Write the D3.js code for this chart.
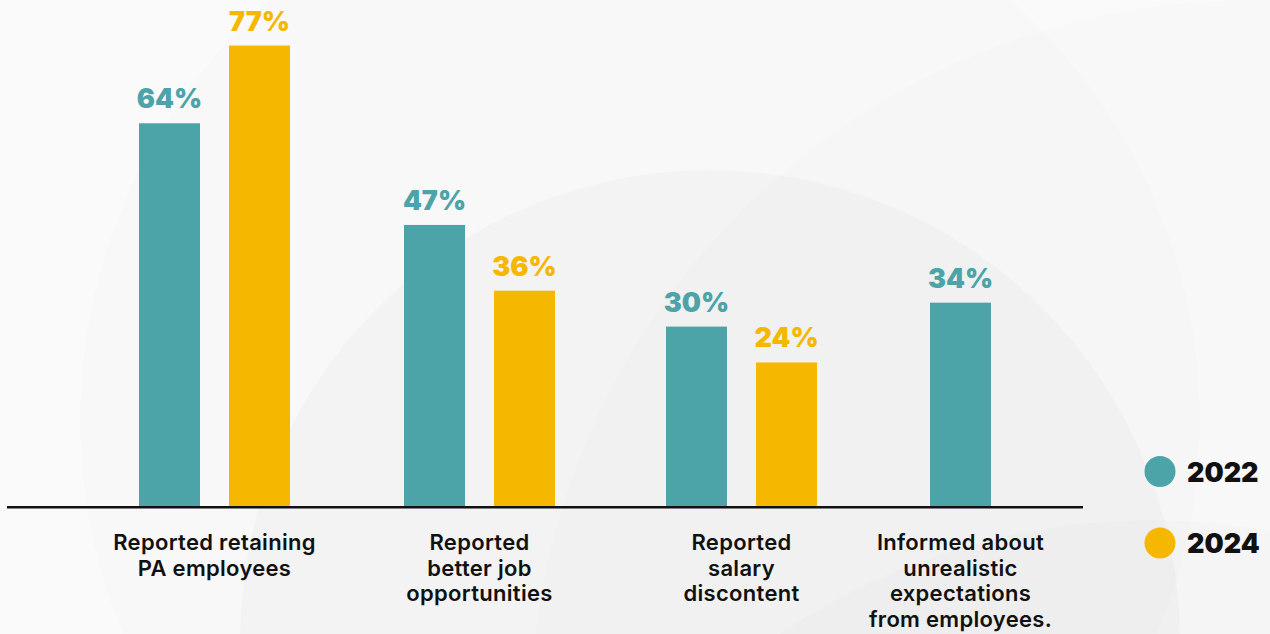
<!DOCTYPE html>
<html>
<head>
<meta charset="utf-8">
<script src="https://cdn.jsdelivr.net/npm/d3@7"></script>
<style>
  html, body { margin: 0; padding: 0; background: #f8f8f8; }
  svg { display: block; }
</style>
</head>
<body>
<svg id="chart" width="1270" height="634"></svg>
<script>
// Survey results by category, 2022 vs 2024 (percent)
const categories = [
  ["Reported retaining", "PA employees"],
  ["Reported", "better job", "opportunities"],
  ["Reported", "salary", "discontent"],
  ["Informed about", "unrealistic", "expectations", "from employees."]
];
const years = ["2022", "2024"];
const values2022 = [64, 47, 30, 34];
const values2024 = [77, 36, 24, null];
const yearColors = ["#4ca3a8", "#f5b700"];

const W = 1270, H = 634;
const svg = d3.select("#chart");

// soft background discs
const bg = svg.append("g");
bg.append("rect").attr("width", W).attr("height", H).attr("fill", "#fafafa");
[
  { cx: 640, cy: 420, r: 560, o: 0.008 },
  { cx: 1250, cy: 720, r: 720, o: 0.008 },
  { cx: 710, cy: 640, r: 470, o: 0.02 },
  { cx: 1150, cy: 1180, r: 660, o: 0.012 }
].forEach(c => bg.append("circle")
  .attr("cx", c.cx).attr("cy", c.cy).attr("r", c.r)
  .attr("fill", "#000").attr("fill-opacity", c.o));

const catKeys = categories.map(c => c.join(" "));
const baseY = 506;

const y = d3.scaleLinear().domain([0, 100]).range([baseY, baseY - 598]);
const x = d3.scaleOrdinal().domain(catKeys).range([214.5, 479.5, 741.5, 960.5]);
const inner = d3.scaleBand().domain(years).range([-75.5, 75.5]).paddingInner(29 / 90);
const barW = inner.bandwidth();

const rows = [];
catKeys.forEach((k, i) => {
  const vals = [values2022[i], values2024[i]];
  const present = years.filter((yr, j) => vals[j] != null);
  years.forEach((yr, j) => {
    if (vals[j] == null) return;
    const off = present.length === 1 ? -barW / 2 : inner(yr);
    rows.push({ key: k, year: yr, v: vals[j], color: yearColors[j], x0: x(k) + off });
  });
});

const g = svg.append("g");
g.selectAll("rect.bar").data(rows).join("rect")
  .attr("class", "bar")
  .attr("x", d => d.x0)
  .attr("y", d => y(d.v))
  .attr("width", barW)
  .attr("height", d => y(0) - y(d.v))
  .attr("fill", d => d.color);

g.selectAll("text.val").data(rows).join("text")
  .attr("class", "val")
  .attr("x", d => d.x0 + barW / 2)
  .attr("y", d => y(d.v) - 15)
  .attr("text-anchor", "middle")
  .attr("font-family", "Inter, 'Noto Sans', sans-serif")
  .attr("font-weight", 900)
  .attr("font-size", 27)
  .attr("fill", d => d.color)
  .text(d => d.v + "%");

// baseline
svg.append("line")
  .attr("x1", 7).attr("x2", 1083)
  .attr("y1", baseY + 1.2).attr("y2", baseY + 1.2)
  .attr("stroke", "#111").attr("stroke-width", 2.6);

// category labels
categories.forEach((lines, i) => {
  const t = svg.append("text")
    .attr("x", x(catKeys[i]))
    .attr("y", 550)
    .attr("text-anchor", "middle")
    .attr("font-family", "Inter, 'Noto Sans', sans-serif")
    .attr("font-weight", 600)
    .attr("font-size", 22)
    .attr("letter-spacing", 0.3)
    .attr("fill", "#111");
  lines.forEach((ln, j) => t.append("tspan")
    .attr("x", x(catKeys[i]))
    .attr("dy", j === 0 ? 0 : 25.7)
    .text(ln));
});

// legend
const legend = svg.append("g");
years.forEach((yr, i) => {
  const cy = 471.5 + i * 71.5;
  legend.append("circle").attr("cx", 1160).attr("cy", cy).attr("r", 15.5).attr("fill", yearColors[i]);
  legend.append("text")
    .attr("x", 1187).attr("y", cy + 10)
    .attr("font-family", "Inter, 'Noto Sans', sans-serif")
    .attr("font-weight", 900)
    .attr("font-size", 27)
    .attr("fill", "#111")
    .text(yr);
});
</script>
</body>
</html>
